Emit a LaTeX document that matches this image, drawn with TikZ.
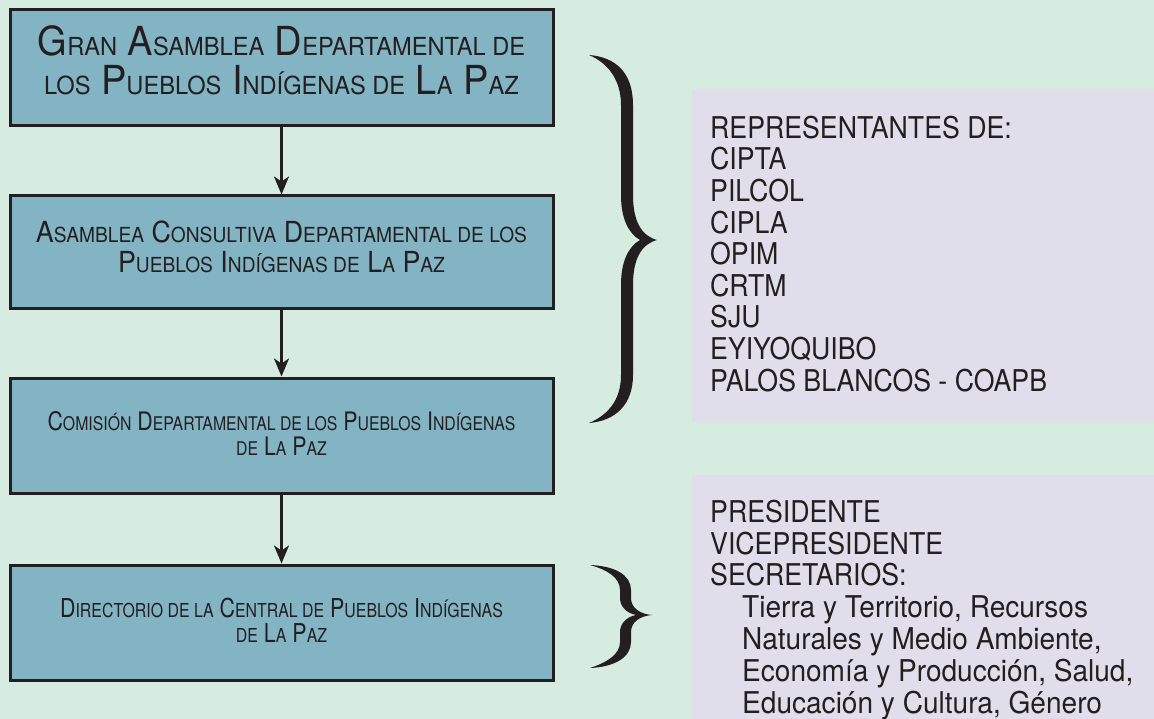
\documentclass[tikz,border=0pt]{standalone}
\usepackage{fontspec}
\usepackage{relsize}
\setmainfont[FakeStretch=0.89]{TeX Gyre Heros}
\newfontfamily\fA[FakeStretch=0.95]{TeX Gyre Heros}
\newfontfamily\fB[FakeStretch=0.925]{TeX Gyre Heros}
\newfontfamily\fC[FakeStretch=0.838]{TeX Gyre Heros}
\newfontfamily\fD[FakeStretch=0.825]{TeX Gyre Heros}
\newfontfamily\fE[FakeStretch=0.935]{TeX Gyre Heros}
\usetikzlibrary{arrows.meta}
\definecolor{bgmint}{RGB}{215,236,225}
\definecolor{boxblue}{RGB}{130,180,196}
\definecolor{lav}{RGB}{224,222,234}
\definecolor{ink}{RGB}{35,31,32}
\newcommand\lsc[1]{\textscale{0.74}{#1}}
\newcommand\subl[1]{\hspace*{32pt}{\fE #1}}
\tikzset{
  orgbox/.style={draw=ink, line width=3pt, fill=boxblue, minimum width=543pt, inner sep=0pt},
  boxtext/.style={anchor=base, align=center, inner sep=0pt, text=ink},
  infobox/.style={fill=lav, anchor=north west, inner sep=0pt},
  infotext/.style={anchor=base west, align=left, inner sep=0pt, text=ink},
  flow/.style={draw=ink, line width=2.5pt, -{Stealth[length=18pt,width=15pt,inset=5pt]}},
  bracefill/.style={fill=ink, draw=none}
}
\begin{document}
\begin{tikzpicture}[x=1pt,y=-1pt]
\fill[bgmint] (0,0) rectangle (1154,719);
\useasboundingbox (0,0) rectangle (1154,719);

\node[orgbox, minimum height=116pt] (b1) at (281.5,68) {};
\node[orgbox, minimum height=113pt] (b2) at (281.5,252.5) {};
\node[orgbox, minimum height=115pt] (b3) at (281.5,435.5) {};
\node[orgbox, minimum height=115pt] (b4) at (281.5,622.5) {};

\node[boxtext, font=\fA\fontsize{40}{39}\selectfont] (t1) at (281.5,95)
  {G\lsc{RAN} A\lsc{SAMBLEA} D\lsc{EPARTAMENTAL DE}\\ \lsc{LOS} P\lsc{UEBLOS} I\lsc{NDÍGENAS DE} L\lsc{A} P\lsc{AZ}};
\node[boxtext, font=\fB\fontsize{29}{30}\selectfont] (t2) at (281.5,273)
  {A\lsc{SAMBLEA} C\lsc{ONSULTIVA} D\lsc{EPARTAMENTAL DE LOS}\\ P\lsc{UEBLOS} I\lsc{NDÍGENAS DE} L\lsc{A} P\lsc{AZ}};
\node[boxtext, font=\fC\fontsize{25.5}{25}\selectfont] (t3) at (281.5,455)
  {C\lsc{OMISIÓN} D\lsc{EPARTAMENTAL DE LOS} P\lsc{UEBLOS} I\lsc{NDÍGENAS}\\ \lsc{DE} L\lsc{A} P\lsc{AZ}};
\node[boxtext, font=\fD\fontsize{26}{25}\selectfont] (t4) at (281.5,642)
  {D\lsc{IRECTORIO DE LA} C\lsc{ENTRAL DE} P\lsc{UEBLOS} I\lsc{NDÍGENAS}\\ \lsc{DE} L\lsc{A} P\lsc{AZ}};

\draw[flow] (b1) -- (b2);
\draw[flow] (b2) -- (b3);
\draw[flow] (b3) -- (b4);

\node[infobox, minimum width=462pt, minimum height=332pt] (ra) at (692,90) {};
\node[infobox, minimum width=462pt, minimum height=250pt] (rb) at (692,475) {};

\node[infotext, font=\fontsize{30}{31.6}\selectfont] (ta) at (710,391)
  {REPRESENTANTES DE:\\ CIPTA\\ PILCOL\\ CIPLA\\ OPIM\\ CRTM\\ SJU\\ EYIYOQUIBO\\ PALOS BLANCOS - COAPB};
\node[infotext, font=\fontsize{30}{31.8}\selectfont] (tb) at (710,713)
  {PRESIDENTE\\ VICEPRESIDENTE\\ SECRETARIOS:\\ \subl{Tierra y Territorio, Recursos}\\ \subl{Naturales y Medio Ambiente,}\\ \subl{Economía y Producción, Salud,}\\ \subl{Educación y Cultura, Género}};

% big brace
\fill[bracefill] (589,55) .. controls (615,57) and (633,72) .. (633,105) -- (633,195)
  .. controls (633,222) and (642,236) .. (657,240)
  .. controls (642,244) and (633,258) .. (633,285) -- (633,375)
  .. controls (633,405) and (615,421) .. (589,423)
  .. controls (608,415) and (621,400) .. (621,375) -- (621,285)
  .. controls (621,262) and (628,247) .. (640,240)
  .. controls (628,233) and (621,218) .. (621,195) -- (621,105)
  .. controls (621,80) and (608,63) .. (589,55) -- cycle;
% small brace
\fill[bracefill] (590,565) .. controls (615,566) and (631,575) .. (631,590) -- (631,598)
  .. controls (631,608) and (640,614) .. (652,615)
  .. controls (640,616) and (631,622) .. (631,632) -- (631,642)
  .. controls (631,657) and (615,667) .. (590,668)
  .. controls (608,662) and (620,654) .. (620,642) -- (620,632)
  .. controls (620,624) and (626,617) .. (636,615)
  .. controls (626,613) and (620,606) .. (620,598) -- (620,590)
  .. controls (620,578) and (608,570) .. (590,565) -- cycle;
\end{tikzpicture}
\end{document}
